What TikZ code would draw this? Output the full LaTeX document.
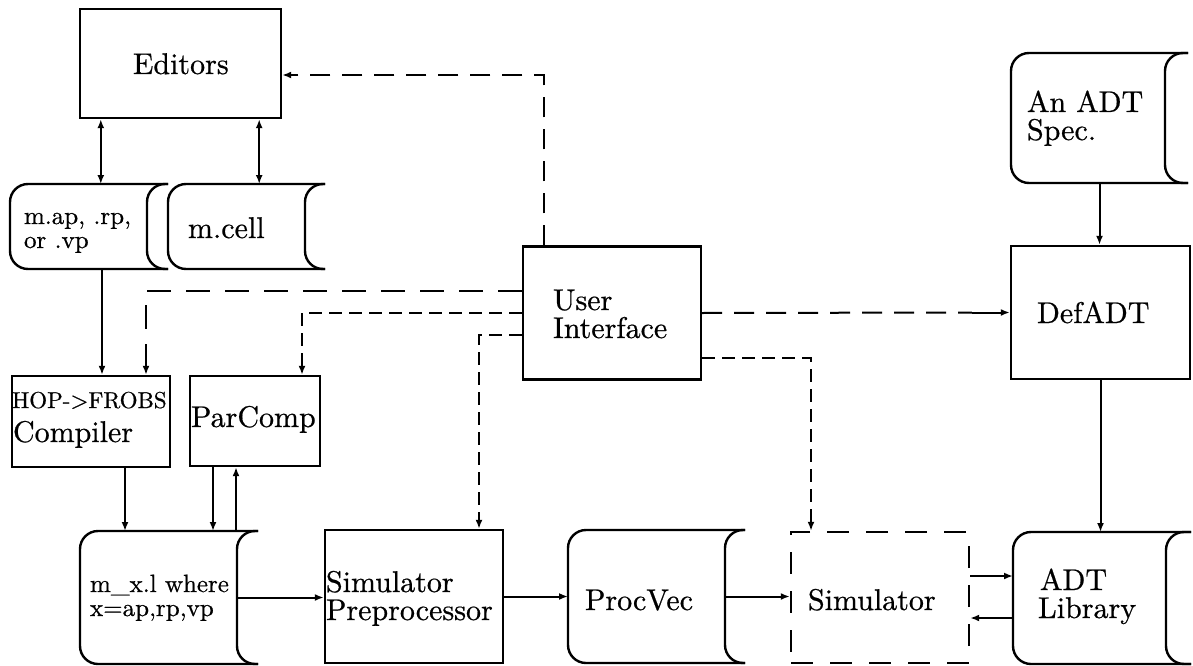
\documentclass[tikz,border=0pt]{standalone}
\usepackage{fontspec}
\setmainfont{lmroman10-regular.otf}[FakeBold=0.6]
\usetikzlibrary{arrows.meta,calc}
\tikzset{
 every node/.style={font=\fontsize{30}{28}\selectfont},
 box/.style={draw, line width=2.4pt, rectangle, inner sep=0pt},
 store/.style={rectangle, inner sep=0pt, outer sep=0pt},
 storeline/.style={line width=2.4pt, rounded corners=18pt},
 lbl/.style={anchor=base west, inner sep=0pt, outer sep=0pt},
 fsmall/.style={font=\fontsize{25}{20}\selectfont},
 fhop/.style={font=\fontsize{23}{20}\selectfont},
 conn/.style={line width=2pt},
 arr/.style={conn, -{Latex[length=9pt,width=7pt]}},
 arrb/.style={conn, {Latex[length=9pt,width=7pt]}-{Latex[length=9pt,width=7pt]}},
 tip/.style={-{Latex[length=9pt,width=7pt]}},
 dlong/.style={conn, dash pattern=on 24pt off 15pt},
 dmid/.style={conn, dash pattern=on 20pt off 12pt},
 dshort/.style={conn, dash pattern=on 13pt off 7pt},
}
\newcommand\drawstore[2][21]{%
 \draw[storeline] (#2.north east) -- (#2.north west) -- (#2.south west) -- (#2.south east);
 \draw[storeline] (#2.north east) -- ([xshift=-#1pt]#2.north east) -- ([xshift=-#1pt]#2.south east) -- (#2.south east);}
\begin{document}
\begin{tikzpicture}[x=1pt,y=-1pt]
\useasboundingbox (0,0) rectangle (1193,666);
% boxes
\node[box, minimum width=201pt, minimum height=109pt] (ed) at (180.5,63.5) {};
\node[box, minimum width=178pt, minimum height=133pt] (ui) at (612,313) {};
\node[box, minimum width=179pt, minimum height=133pt] (def) at (1100.5,312.5) {};
\node[box, minimum width=158pt, minimum height=91pt] (hop) at (91,421.5) {};
\node[box, minimum width=130pt, minimum height=90pt] (par) at (255,421) {};
\node[box, minimum width=178pt, minimum height=133pt] (sp) at (414,596.5) {};
\node[box, dash pattern=on 22pt off 17pt, minimum width=178pt, minimum height=131pt] (sim) at (880,597.5) {};
% storage shapes
\node[store, minimum width=158pt, minimum height=85pt] (map) at (89,226.5) {};
\node[store, minimum width=157pt, minimum height=85pt] (cell) at (246.5,226.5) {};
\node[store, minimum width=178pt, minimum height=133pt] (mxl) at (169,597.5) {};
\node[store, minimum width=177pt, minimum height=133pt] (pv) at (656.5,596.5) {};
\node[store, minimum width=177pt, minimum height=130pt] (spec) at (1099.5,118) {};
\node[store, minimum width=178pt, minimum height=132pt] (lib) at (1102,598) {};
\drawstore{map}
\drawstore[20]{cell}
\drawstore{mxl}
\drawstore[20]{pv}
\drawstore[23]{spec}
\drawstore[25]{lib}
% texts
\node[lbl] (ted) at (133,74) {Editors};
\node[lbl] (tui1) at (553,310) {User};
\node[lbl] (tui2) at (553,338) {Interface};
\node[lbl] (tdef) at (1037,323) {DefADT};
\node[lbl, fhop] (thop1) at (12,408) {HOP->FROBS};
\node[lbl] (thop2) at (13,442) {Compiler};
\node[lbl] (tpar) at (191,427) {ParComp};
\node[lbl, fsmall] (tmap1) at (24,224) {m.ap, .rp,};
\node[lbl, fsmall] (tmap2) at (24,248) {or .vp};
\node[lbl] (tcell) at (188,238) {m.cell};
\node[lbl] (tspec1) at (1027,112) {An ADT};
\node[lbl] (tspec2) at (1027,140) {Spec.};
\node[lbl, fsmall] (tmxl1) at (90,592) {m\_x.l where};
\node[lbl, fsmall] (tmxl2) at (90,616) {x=ap,rp,vp};
\node[lbl] (tsp1) at (326,592) {Simulator};
\node[lbl] (tsp2) at (326,620) {Preprocessor};
\node[lbl] (tpv) at (585,610) {ProcVec};
\node[lbl] (tsim) at (808,610) {Simulator};
\node[lbl] (tlib1) at (1040,590) {ADT};
\node[lbl] (tlib2) at (1038,618) {Library};
% helper coordinates
\coordinate (simA) at ([yshift=21.5pt]sim.east);
\coordinate (simB) at ([yshift=-20.5pt]sim.east);
% solid connectors
\draw[arrb] ([xshift=22pt]ed.south west) -- ([xshift=22pt]ed.south west |- map.north);
\draw[arrb] ([xshift=-23pt]ed.south east) -- ([xshift=-23pt]ed.south east |- cell.north);
\draw[arr] ([xshift=13pt]map.south) -- ([xshift=13pt]map.south |- hop.north);
\draw[arr] ([xshift=34pt]hop.south) -- ([xshift=34pt]hop.south |- mxl.north);
\draw[arr] ([xshift=-42pt]par.south) -- ([xshift=-42pt]par.south |- mxl.north);
\draw[arr] ([xshift=-19pt]par.south |- mxl.north) -- ([xshift=-19pt]par.south);
\draw[arr] ([xshift=-21pt]mxl.east) -- (sp.west |- mxl.east);
\draw[arr] (sp.east) -- (pv.west);
\draw[arr] ([xshift=-20pt]pv.east) -- (sim.west |- pv.east);
\draw[arr] (simA) -- (lib.west |- simA);
\draw[arr] (lib.west |- simB) -- (simB);
\draw[arr] (spec.south) -- (spec.south |- def.north);
\draw[arr] (def.south) -- (def.south |- lib.north);
% dashed connectors
\draw[dmid, tip] ([xshift=-68pt]ui.north) |- ([yshift=-11.5pt]ed.east);
\draw[dlong, tip] ([yshift=22pt]ui.west) -| ([xshift=55pt]hop.north);
\draw[dshort, tip] (ui.west) -| ([xshift=47pt]par.north);
\draw[dshort, tip] ([yshift=-22pt]ui.west) -| ([xshift=65pt]sp.north);
\draw[dmid] (ui.east) -- ([xshift=-38pt]def.west);
\draw[arr] ([xshift=-38pt]def.west) -- (def.west);
\draw[dshort, tip] ([yshift=-45pt]ui.east) -| ([xshift=-69pt]sim.north);
\end{tikzpicture}
\end{document}
